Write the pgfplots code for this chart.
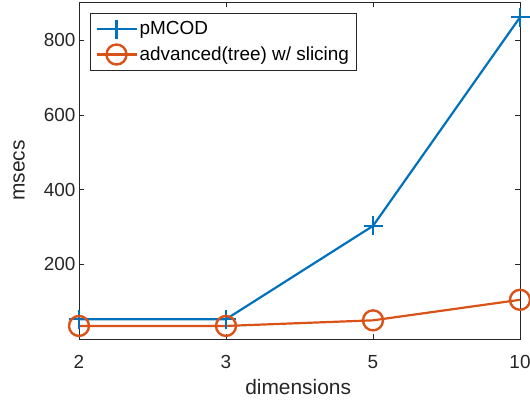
\documentclass[border=0pt]{standalone}
\usepackage{fontspec}
\setmainfont{Liberation Sans}
\usepackage{pgfplots}
\pgfplotsset{compat=1.18}
\definecolor{mblue}{rgb}{0,0.447,0.741}
\definecolor{morange}{rgb}{0.85,0.325,0.098}
\definecolor{axgray}{rgb}{0.15,0.15,0.15}
\begin{document}
\begin{tikzpicture}
\begin{axis}[
  name=ax,
  scale only axis,
  width=441bp, height=337bp,
  xmin=1, xmax=4, ymin=0, ymax=903,
  xtick={1,2,3,4}, xticklabels={2,3,5,10},
  ytick={200,400,600,800},
  tick align=inside,
  major tick length=5bp,
  axis line style={axgray, line width=0.8bp},
  every tick/.style={axgray, line width=0.8bp},
  tick label style={font=\fontsize{19}{23}\selectfont, text=axgray},
  /pgf/number format/assume math mode=true,
  xticklabel style={yshift=-13bp},
  xlabel={dimensions},
  ylabel={msecs},
  label style={font=\fontsize{21}{25}\selectfont, text=axgray},
  xlabel style={at={(axis description cs:0.497,-0.166)}, anchor=base, inner sep=0pt},
  ylabel style={at={(axis description cs:-0.136,0.5)}, anchor=center, rotate=0},
  legend style={at={(axis description cs:0.025,0.967)}, anchor=north west,
    draw=axgray, line width=0.8bp, fill=white,
    font=\fontsize{19}{23}\selectfont, text=black,
    inner xsep=5bp, inner ysep=6bp, row sep=6bp},
  legend cell align=left,
  legend image code/.code={
    \draw[#1, mark repeat=2, mark phase=2] plot coordinates {(0bp,0bp) (20bp,0bp) (40bp,0bp)};
  },
]
\addplot[color=mblue, line width=2.2bp, mark=+, mark size=9.5bp, mark options={line width=2.4bp}]
  coordinates {(1,53) (2,53) (3,303) (4,862)};
\addlegendentry{pMCOD}
\addplot[color=morange, line width=2.2bp, mark=o, mark size=10bp, mark options={line width=2.4bp}]
  coordinates {(1,35) (2,35) (3,50) (4,105)};
\addlegendentry{advanced(tree) w/ slicing}
\end{axis}
\pgfresetboundingbox
\useasboundingbox ([shift={(-79bp,-61bp)}]ax.south west) rectangle ([shift={(10bp,2bp)}]ax.north east);
\end{tikzpicture}
\end{document}
